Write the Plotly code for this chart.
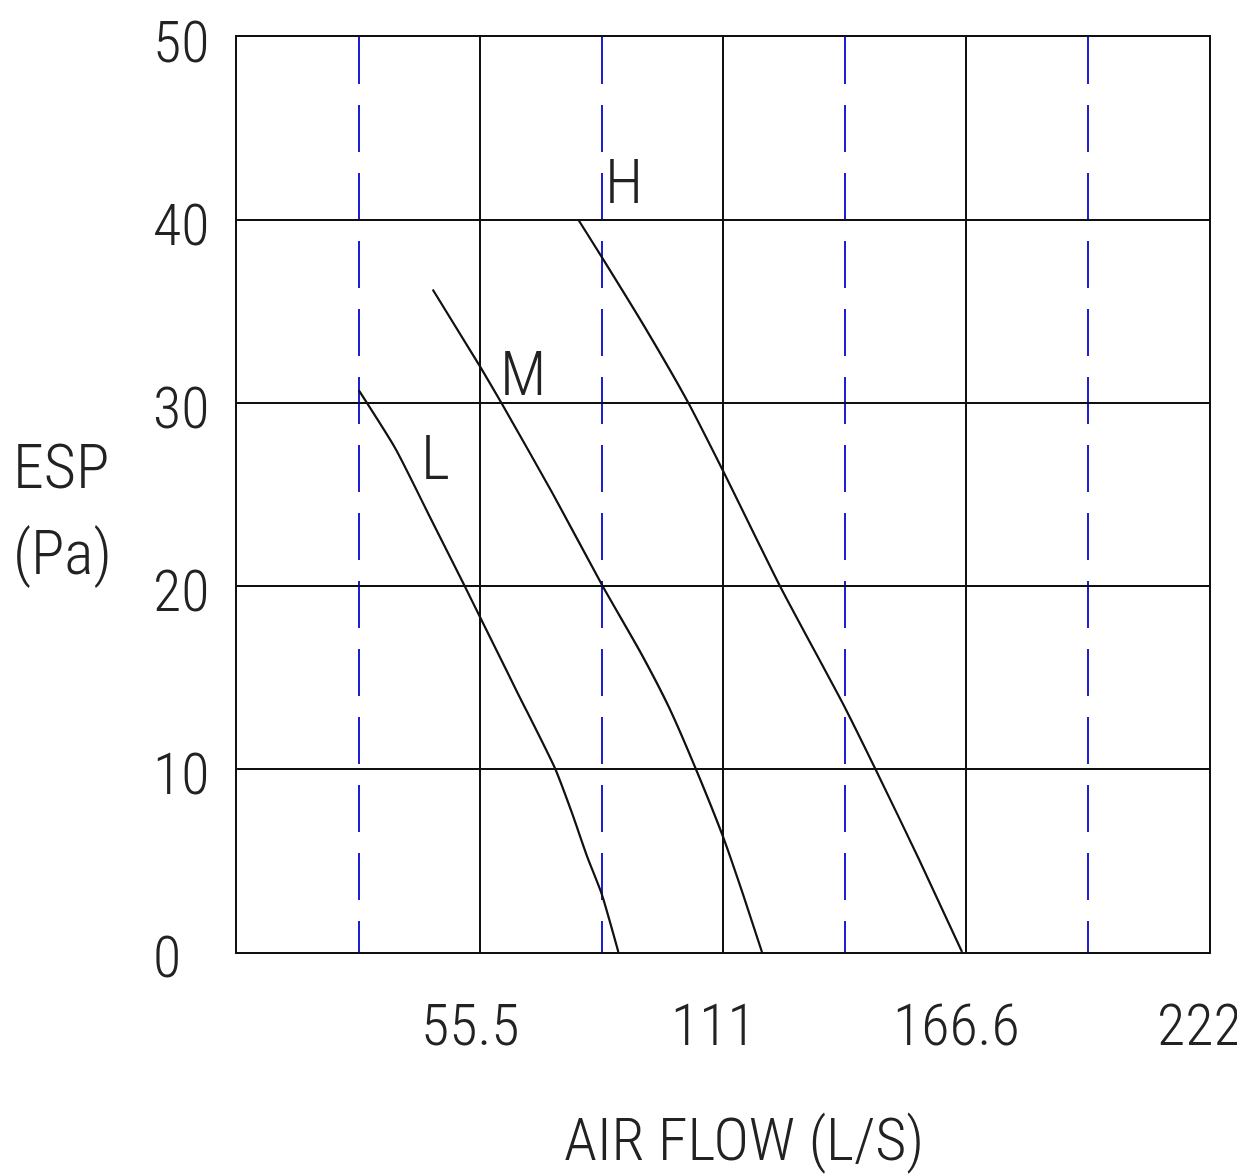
import plotly.graph_objects as go

# ---- data ----
L_x = [27.8, 36.2, 44.0, 52.0, 55.5, 64.0, 72.7, 76.5, 80.0, 83.25, 87.1]
L_y = [30.7, 27.5, 23.8, 20.0, 18.3, 14.2, 10.0, 7.6, 5.2, 3.2, 0.0]

M_x = [44.7, 55.5, 60.4, 72.0, 83.5, 92.1, 98.6, 104.8, 111.0, 115.5, 119.9]
M_y = [36.2, 32.0, 30.0, 25.1, 20.0, 16.4, 13.4, 10.0, 6.3, 3.2, 0.0]

H_x = [78.0, 83.25, 93.0, 103.1, 111.0, 124.0, 138.75, 145.8, 155.7, 165.6]
H_y = [40.0, 38.0, 34.2, 30.0, 26.3, 20.0, 13.4, 10.0, 5.1, 0.0]

x_major_vals = [55.5, 111, 166.6, 222]
x_major_text = ["55.5", "111", "166.6", "222"]
x_minor_vals = [27.75, 83.25, 138.75, 194.25]
y_tick_vals = [0, 10, 20, 30, 40, 50]
y_tick_text = ["0", "10", "20", "30", "40", "50"]

curve_names = ["L", "M", "H"]
x_title = "AIR FLOW (L/S)"
y_title_lines = ["ESP", "(Pa)"]

FONT = "Roboto Condensed, Roboto, sans-serif"
TXT = "#222222"


def tfont(size):
    return dict(family=FONT, size=size, color=TXT, weight=300)


fig = go.Figure()
for xs, ys in [(L_x, L_y), (M_x, M_y), (H_x, H_y)]:
    fig.add_trace(go.Scatter(x=xs, y=ys, mode="lines",
                             line=dict(color="#111111", width=2.2, shape="spline", smoothing=0.6),
                             showlegend=False, hoverinfo="skip"))

annotations = []
# y tick labels (left aligned, like the reference)
for v, t in zip(y_tick_vals, y_tick_text):
    annotations.append(dict(text=t, x=-0.0885, xref="paper", y=v, yref="y",
                            xanchor="left", yanchor="middle", yshift=-5, showarrow=False,
                            font=tfont(58)))
# x tick labels
for v, t in zip(x_major_vals, x_major_text):
    annotations.append(dict(text=t, x=v, xref="x", y=-0.0798, yref="paper",
                            xanchor="center", yanchor="middle", xshift=-10, showarrow=False,
                            font=tfont(58)))
# curve labels
label_pos = {"H": (88.4, 42.1), "M": (65.4, 31.6), "L": (45.4, 27.0)}
for n in curve_names:
    px, py = label_pos[n]
    annotations.append(dict(text=n, x=px, y=py, xref="x", yref="y", showarrow=False,
                            xanchor="center", yanchor="middle", font=tfont(62)))
# axis titles
annotations.append(dict(text=x_title, x=0.5216, y=-0.205, xref="paper", yref="paper",
                        xanchor="center", yanchor="middle", showarrow=False, font=tfont(60)))
for i, line in enumerate(y_title_lines):
    annotations.append(dict(text=line, x=-0.2325, y=0.531 - i * 0.094, xref="paper", yref="paper",
                            xanchor="left", yanchor="middle", showarrow=False, font=tfont(62)))

fig.update_layout(
    width=1245, height=1176,
    margin=dict(l=229, r=44, t=29, b=232),
    paper_bgcolor="white", plot_bgcolor="white",
    annotations=annotations,
    xaxis=dict(range=[0, 222], tickmode="array", tickvals=x_major_vals, showticklabels=False,
               showgrid=True, gridcolor="#111111", gridwidth=2,
               minor=dict(tickmode="array", tickvals=x_minor_vals, showgrid=True,
                          gridcolor="#1f1fd4", gridwidth=1.6, griddash="47px,21px", ticks=""),
               showline=True, linecolor="#111111", linewidth=2, mirror=True,
               zeroline=False, ticks=""),
    yaxis=dict(range=[0, 50], tickmode="array", tickvals=y_tick_vals, showticklabels=False,
               showgrid=True, gridcolor="#111111", gridwidth=2,
               showline=True, linecolor="#111111", linewidth=2, mirror=True,
               zeroline=False, ticks=""),
)

fig.write_html("out.html")
